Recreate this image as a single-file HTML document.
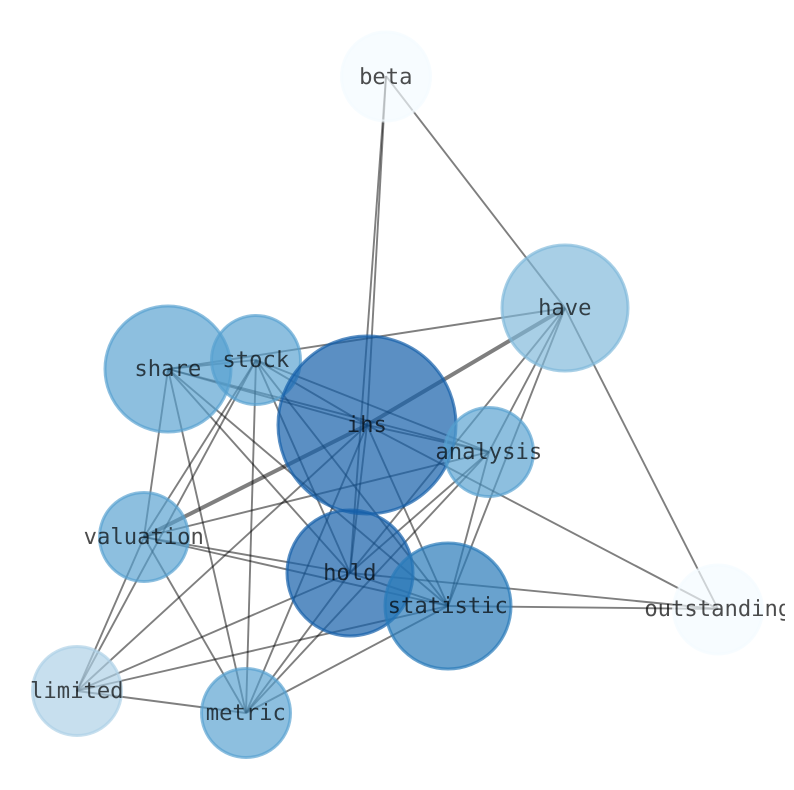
<!DOCTYPE html>
<html><head><meta charset="utf-8"><style>
html,body{margin:0;padding:0;background:#fff;width:794px;height:790px;overflow:hidden}
svg{display:block;position:absolute;left:0;top:0}
text{font-family:"DejaVu Sans Mono",monospace;font-size:22.2px;fill:#000;fill-opacity:.7;text-anchor:middle;text-rendering:geometricPrecision}
.e line{stroke:#000;stroke-opacity:.5;stroke-width:1.9}
.e line.t{stroke-width:4}
.n circle{stroke-width:3;fill-opacity:.67;stroke-opacity:.67}
.n circle.d{fill-opacity:.7;stroke-opacity:.7}
</style></head><body>
<svg width="785" height="790" viewBox="0 0 785 790" xmlns="http://www.w3.org/2000/svg">
<g class="e">
<line x1="386" y1="76" x2="367" y2="425"/>
<line x1="386" y1="76" x2="350" y2="573"/>
<line x1="386" y1="76" x2="565" y2="308"/>
<line class="t" x1="565" y1="308" x2="367" y2="425"/>
<line x1="565" y1="308" x2="168" y2="369"/>
<line x1="565" y1="308" x2="489" y2="452"/>
<line x1="565" y1="308" x2="350" y2="573"/>
<line x1="565" y1="308" x2="448" y2="606"/>
<line x1="565" y1="308" x2="718" y2="609"/>
<line x1="168" y1="369" x2="256" y2="360"/>
<line x1="168" y1="369" x2="367" y2="425"/>
<line x1="168" y1="369" x2="489" y2="452"/>
<line x1="168" y1="369" x2="350" y2="573"/>
<line x1="168" y1="369" x2="448" y2="606"/>
<line x1="168" y1="369" x2="144" y2="537"/>
<line x1="168" y1="369" x2="246" y2="713"/>
<line x1="256" y1="360" x2="367" y2="425"/>
<line x1="256" y1="360" x2="489" y2="452"/>
<line x1="256" y1="360" x2="350" y2="573"/>
<line x1="256" y1="360" x2="448" y2="606"/>
<line x1="256" y1="360" x2="144" y2="537"/>
<line x1="256" y1="360" x2="77" y2="691"/>
<line x1="256" y1="360" x2="246" y2="713"/>
<line x1="367" y1="425" x2="489" y2="452"/>
<line class="t" x1="367" y1="425" x2="144" y2="537"/>
<line x1="367" y1="425" x2="350" y2="573"/>
<line x1="367" y1="425" x2="448" y2="606"/>
<line x1="367" y1="425" x2="718" y2="609"/>
<line x1="367" y1="425" x2="77" y2="691"/>
<line x1="367" y1="425" x2="246" y2="713"/>
<line x1="489" y1="452" x2="144" y2="537"/>
<line x1="489" y1="452" x2="350" y2="573"/>
<line x1="489" y1="452" x2="448" y2="606"/>
<line x1="489" y1="452" x2="246" y2="713"/>
<line x1="144" y1="537" x2="350" y2="573"/>
<line x1="144" y1="537" x2="448" y2="606"/>
<line x1="144" y1="537" x2="77" y2="691"/>
<line x1="144" y1="537" x2="246" y2="713"/>
<line x1="350" y1="573" x2="448" y2="606"/>
<line x1="350" y1="573" x2="718" y2="609"/>
<line x1="350" y1="573" x2="77" y2="691"/>
<line x1="350" y1="573" x2="246" y2="713"/>
<line x1="448" y1="606" x2="718" y2="609"/>
<line x1="448" y1="606" x2="77" y2="691"/>
<line x1="448" y1="606" x2="246" y2="713"/>
<line x1="77" y1="691" x2="246" y2="713"/>
</g>
<g class="n">
<circle cx="386" cy="76.5" r="44.5" fill="#f3faff" stroke="#f3faff"/>
<circle cx="565" cy="308" r="63" fill="#7db8da" stroke="#7db8da"/>
<circle cx="168" cy="369" r="63" fill="#55a0cf" stroke="#55a0cf"/>
<circle cx="256" cy="360" r="44.5" fill="#55a0cf" stroke="#55a0cf"/>
<circle class="d" cx="367" cy="425" r="89" fill="#1660a9" stroke="#1660a9"/>
<circle cx="489" cy="452" r="44.5" fill="#55a0cf" stroke="#55a0cf"/>
<circle cx="144" cy="537" r="44.5" fill="#55a0cf" stroke="#55a0cf"/>
<circle class="d" cx="350" cy="573" r="63" fill="#1660a9" stroke="#1660a9"/>
<circle class="d" cx="448" cy="606" r="63" fill="#2a7ab9" stroke="#2a7ab9"/>
<circle cx="718" cy="609.5" r="44.5" fill="#f3faff" stroke="#f3faff"/>
<circle cx="77" cy="691" r="44.5" fill="#abd0e6" stroke="#abd0e6"/>
<circle cx="246" cy="713" r="44.5" fill="#55a0cf" stroke="#55a0cf"/>
</g>
<g>
<text x="385.8" y="84">beta</text>
<text x="564.8" y="315">have</text>
<text x="167.8" y="376">share</text>
<text x="255.8" y="367">stock</text>
<text x="366.8" y="432">ihs</text>
<text x="488.8" y="459">analysis</text>
<text x="143.8" y="544">valuation</text>
<text x="349.8" y="580">hold</text>
<text x="447.8" y="613">statistic</text>
<text x="717.8" y="616">outstanding</text>
<text x="76.8" y="698">limited</text>
<text x="245.8" y="720">metric</text>
</g>
</svg>
</body></html>
